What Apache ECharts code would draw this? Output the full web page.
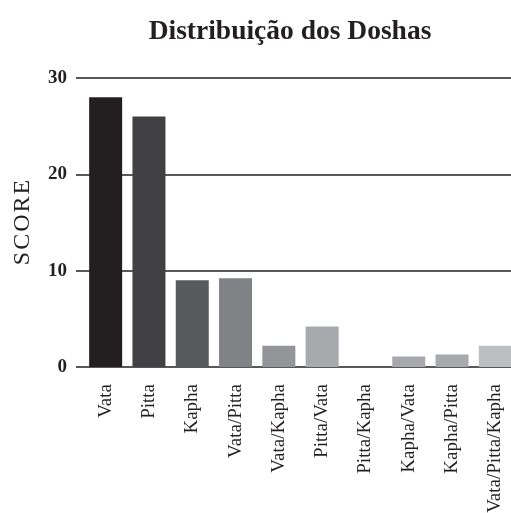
<!DOCTYPE html>
<html lang="pt">
<head>
    <meta charset="UTF-8">
    <title>Distribuição dos Doshas</title>
    <script type="text/javascript" src="https://cdn.jsdelivr.net/npm/echarts@6/dist/echarts.min.js"></script>
    <style>
        html, body { margin: 0; padding: 0; background: #fff; }
        #main { width: 511px; height: 513px; }
    </style>
</head>
<body>
<div id="main"></div>
<script type="text/javascript">
    // dados
    var categorias = ['Vata', 'Pitta', 'Kapha', 'Vata/Pitta', 'Vata/Kapha', 'Pitta/Vata',
        'Pitta/Kapha', 'Kapha/Vata', 'Kapha/Pitta', 'Vata/Pitta/Kapha'];
    var scores = [28, 26, 9, 9.2, 2.2, 4.2, 0, 1.1, 1.3, 2.2];
    var cores = ['#231f20', '#414042', '#58595b', '#808285', '#939598', '#a7a9ac',
        '#a7a9ac', '#a7a9ac', '#a7a9ac', '#bcbec0'];
    var yTicks = [0, 10, 20, 30];

    var serif = '"Liberation Serif", "DejaVu Serif", serif';
    var myChart = echarts.init(document.getElementById('main'));

    myChart.setOption({
        animation: false,
        title: {
            text: 'Distribuição dos Doshas',
            left: 285,
            textAlign: 'center',
            top: 13,
            textStyle: {fontFamily: serif, fontSize: 27.5, fontWeight: 'bold', color: '#231f20'}
        },
        grid: [
            // grade das linhas
            {left: 76, right: 0, top: 78, bottom: 146, outerBoundsMode: 'none'},
            // grade das barras
            {left: 84, width: 433, top: 78, bottom: 146, outerBoundsMode: 'none'}
        ],
        xAxis: [{
            gridIndex: 0, type: 'value', min: 0, max: 1, show: false
        }, {
            gridIndex: 1,
            type: 'category',
            data: categorias,
            axisLine: {show: false},
            axisTick: {show: false},
            axisLabel: {
                rotate: 90, margin: 17, interval: 0,
                fontFamily: serif, fontSize: 19, color: '#231f20'
            }
        }],
        yAxis: [{
            gridIndex: 0,
            type: 'value',
            min: 0, max: 30, interval: 10,
            name: 'S\u200AC\u200AO\u200AR\u200AE',
            nameLocation: 'middle',
            nameGap: 41,
            nameTextStyle: {fontFamily: serif, fontSize: 24, color: '#231f20'},
            axisLine: {show: false},
            axisTick: {show: false},
            axisLabel: {
                margin: 9, fontFamily: serif, fontSize: 19, fontWeight: 'bold', color: '#231f20',
                formatter: function (v) { return yTicks.indexOf(v) >= 0 ? String(v) : ''; }
            },
            splitLine: {lineStyle: {color: '#231f20', width: 1.6}}
        }, {
            gridIndex: 1, type: 'value', min: 0, max: 30, show: false
        }],
        series: [{
            type: 'bar',
            xAxisIndex: 1,
            yAxisIndex: 1,
            barWidth: 33,
            data: scores.map(function (v, i) {
                return {value: v, itemStyle: {color: cores[i]}};
            })
        }]
    });
</script>
</body>
</html>
